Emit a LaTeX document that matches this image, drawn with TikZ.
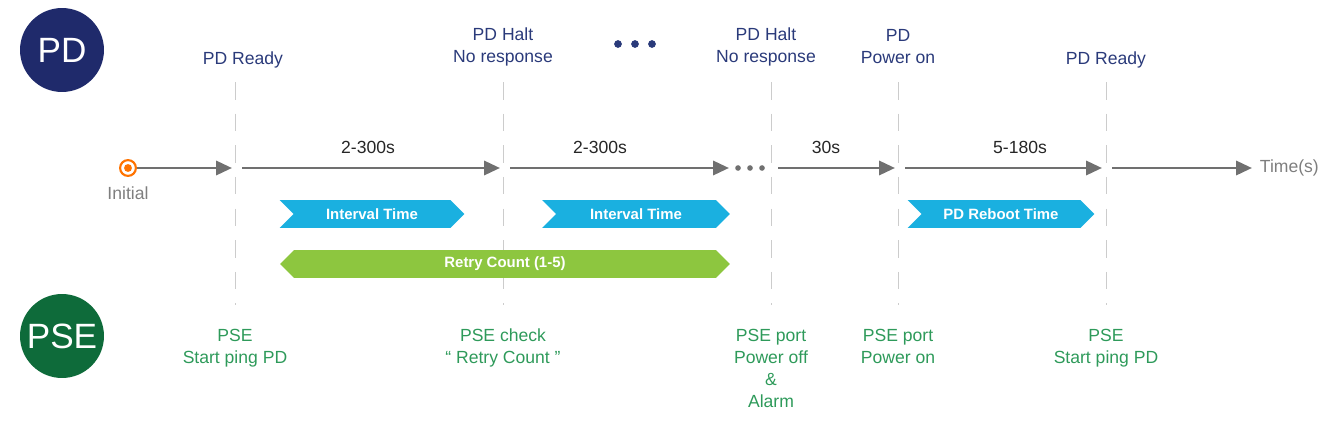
\documentclass[tikz,border=0pt]{standalone}
\usepackage{fontspec}
\setmainfont{Liberation Sans}
\usepackage{xcolor}
\usepackage{tikz}
\usetikzlibrary{shapes.symbols,arrows.meta,positioning}
\definecolor{pdblue}{HTML}{1F2A6B}
\definecolor{psegreen}{HTML}{0E6B3A}
\definecolor{pdtext}{HTML}{2A3A7A}
\definecolor{psetext}{HTML}{2E9A5A}
\definecolor{cyanbar}{HTML}{1AB0E0}
\definecolor{limebar}{HTML}{8DC63F}
\definecolor{axis}{HTML}{707070}

\begin{document}
\begin{tikzpicture}[
    x=0.02cm, y=-0.02cm,
    role/.style={circle, minimum size=1.68cm, inner sep=0pt, text=white, font=\fontsize{20}{22}\selectfont},
    pdlab/.style={pdtext, align=center, font=\fontsize{10}{12.5}\selectfont},
    pselab/.style={psetext, align=center, font=\fontsize{10}{12.5}\selectfont, anchor=north},
    span/.style={gray!30!black, font=\fontsize{10}{12}\selectfont},
    tstep/.style={-{Triangle[length=9pt,width=8pt]}, axis, line width=1.6pt},
    evmark/.style={gray!40, dash pattern=on 10pt off 8pt},
    chev/.style={signal, signal to=east, signal from=west, fill=cyanbar, text=white,
        minimum height=0.56cm, inner sep=0pt, font=\bfseries\fontsize{8.5}{10}\selectfont},
    retry/.style={signal, signal to=east and west, fill=limebar, text=white,
        minimum height=0.56cm, inner sep=0pt, font=\bfseries\fontsize{8.5}{10}\selectfont}
]
    \useasboundingbox (0,0) rectangle (1343,426);

    % Roles
    \node[role, fill=pdblue] (pd) at (62,50) {PD};
    \node[role, fill=psegreen] (pse) at (62,336) {PSE};

    % Event marks
    \foreach \name/\x in {ready/235, halt/503, haltb/771, pwron/898, readyb/1106} {
        \coordinate (\name top) at (\x,82);
        \coordinate (\name bot) at (\x,305);
        \draw[evmark] (\name top) -- (\name bot);
    }

    % Timeline
    \node[circle, draw=orange!90!red, fill=white, line width=1.2pt, minimum size=9pt, inner sep=0pt] (init) at (128,168) {};
    \node[circle, fill=orange!90!red, minimum size=4.5pt, inner sep=0pt] at (init) {};
    \node[axis!90, below=2pt of init, font=\fontsize{10}{12}\selectfont] (initlab) {Initial};
    \coordinate (a1) at (232,168);
    \coordinate (b0) at (242,168);  \coordinate (b1) at (500,168);
    \coordinate (c0) at (510,168);  \coordinate (c1) at (729,168);
    \coordinate (d0) at (778,168);  \coordinate (d1) at (895,168);
    \coordinate (e0) at (905,168);  \coordinate (e1) at (1102,168);
    \coordinate (f0) at (1112,168); \coordinate (f1) at (1252,168);
    \draw[tstep] (init) -- (a1);
    \draw[tstep] (b0) -- (b1);
    \draw[tstep] (c0) -- (c1);
    \draw[tstep] (d0) -- (d1);
    \draw[tstep] (e0) -- (e1);
    \draw[tstep] (f0) -- (f1);
    \foreach \x in {738,750,762} \fill[axis] (\x,168) circle (1.6pt);
    \node[right=1pt of f1, axis!90, font=\fontsize{10}{12}\selectfont] (tlab) {Time(s)};

    % Durations
    \node[span] (s1) at (368,147) {2-300s};
    \node[span] (s2) at (600,147) {2-300s};
    \node[span] (s3) at (826,147) {30s};
    \node[span] (s4) at (1020,147) {5-180s};

    % Bars
    \node[chev, minimum width=3.7cm] (int1) at (372,214) {Interval Time};
    \node[chev, minimum width=3.76cm] (int2) at (636,214) {Interval Time};
    \node[chev, minimum width=3.74cm] (boot) at (1001,214) {PD Reboot Time};
    \node[retry, minimum width=9cm] (rc) at (505,264) {Retry Count (1-5)};

    % PD events
    \node[pdlab] (pdready) at (243,60) {PD Ready};
    \node[pdlab] (pdhalt) at (503,47) {PD Halt\\No response};
    \foreach \x in {618,635,652} \fill[pdtext] (\x,44) circle (2.2pt);
    \node[pdlab] (pdhaltb) at (766,47) {PD Halt\\No response};
    \node[pdlab] (pdon) at (898,47) {PD\\Power on};
    \node[pdlab] (pdreadyb) at (1106,60) {PD Ready};

    % PSE events
    \node[pselab] (pse1) at (235,323) {PSE\\Start ping PD};
    \node[pselab] (pse2) at (503,323) {PSE check\\“ Retry Count ”};
    \node[pselab] (pse3) at (771,323) {PSE port\\Power off\\\&\\Alarm};
    \node[pselab] (pse4) at (898,323) {PSE port\\Power on};
    \node[pselab] (pse5) at (1106,323) {PSE\\Start ping PD};
\end{tikzpicture}
\end{document}
